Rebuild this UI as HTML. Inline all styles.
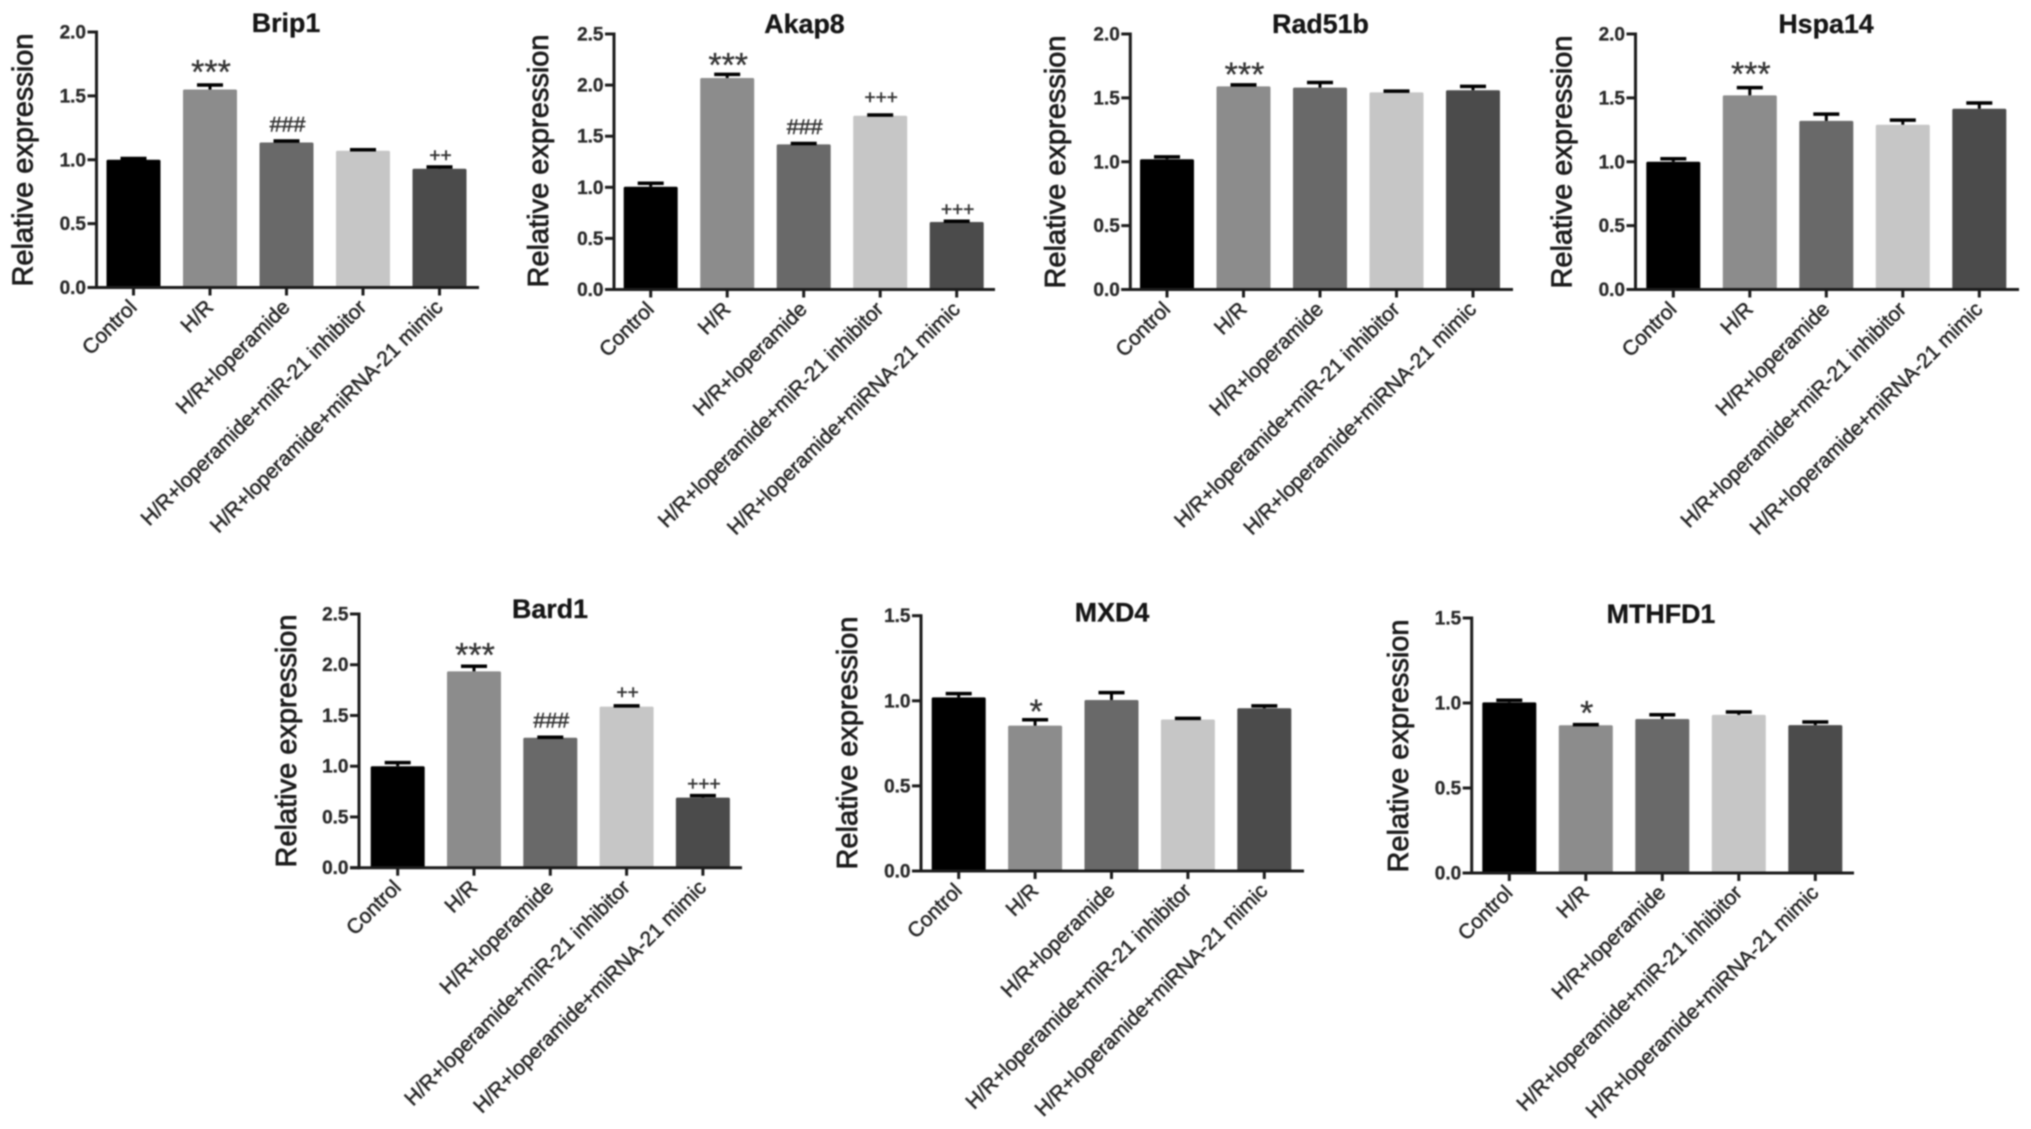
<!DOCTYPE html>
<html>
<head>
<meta charset="utf-8">
<title>Relative expression bar charts</title>
<style>
html,body{margin:0;padding:0;background:#fff;width:2031px;height:1129px;overflow:hidden}
#figure{display:block;filter:blur(0.7px)}
text{font-family:"Liberation Sans",Arial,sans-serif}
</style>
</head>
<body>
<svg id="figure" xmlns="http://www.w3.org/2000/svg" width="2031" height="1129" viewBox="0 0 2031 1129"></svg>
<script>
const categories = ["Control","H/R","H/R+loperamide","H/R+loperamide+miR-21 inhibitor","H/R+loperamide+miRNA-21 mimic"];
const barColors = ["#000000","#8c8c8c","#696969","#c6c6c6","#4b4b4b"];
const ticks20 = [0,0.5,1.0,1.5,2.0];
const ticks25 = [0,0.5,1.0,1.5,2.0,2.5];
const ticks15 = [0,0.5,1.0,1.5];

const brip1Values = [1.00,1.55,1.135,1.07,0.93];
const brip1Errors = [0.01,0.035,0.012,0.008,0.013];
const brip1Marks = ["","***","###","","++"];

const akap8Values = [1.005,2.07,1.42,1.70,0.66];
const akap8Errors = [0.035,0.035,0.008,0.008,0.008];
const akap8Marks = ["","***","###","+++","+++"];

const rad51bValues = [1.02,1.59,1.58,1.543,1.56];
const rad51bErrors = [0.018,0.012,0.04,0.01,0.03];
const rad51bMarks = ["","***","","",""];

const hspa14Values = [1.00,1.52,1.32,1.29,1.415];
const hspa14Errors = [0.023,0.06,0.053,0.036,0.045];
const hspa14Marks = ["","***","","",""];

const bard1Values = [1.00,1.935,1.28,1.587,0.69];
const bard1Errors = [0.035,0.05,0.006,0.008,0.02];
const bard1Marks = ["","***","###","++","+++"];

const mxd4Values = [1.02,0.854,1.005,0.89,0.956];
const mxd4Errors = [0.022,0.035,0.043,0.007,0.014];
const mxd4Marks = ["","*","","",""];

const mthfd1Values = [1.004,0.869,0.906,0.93,0.87];
const mthfd1Errors = [0.012,0.004,0.025,0.017,0.018];
const mthfd1Marks = ["","*","","",""];

const NS = "http://www.w3.org/2000/svg";
const svg = document.getElementById("figure");
const INK = "#1c1c1c";

function make(tag, attrs, parent, txt){
  const n = document.createElementNS(NS, tag);
  for (const k in attrs) n.setAttribute(k, attrs[k]);
  if (txt !== undefined) n.textContent = txt;
  parent.appendChild(n);
  return n;
}

function markStyle(sym, p, i){
  const extra = (p.lift && p.lift[i]) || 0;
  if (sym[0] === "*") return {size:34, gap:(p.starGap || 0) + extra, sw:0.3};
  if (sym[0] === "#") return {size:21.5, gap:9.5 + extra, sw:0.5};
  return {size:19, gap:5.5 + extra, sw:0.5};
}

function drawPanel(p){
  const g = make("g", {}, svg);
  
  

  const yScale = v => p.base - (v / p.ymax) * (p.base - p.top);
  const xScale = i => p.first + i * p.step;

  const title = make("text", {x:p.titleX, y:p.titleY, "text-anchor":"middle", "font-size":26.8, "font-weight":"bold", fill:"#151515", stroke:"#151515", "stroke-width":0.3}, g, p.title);
  
  

  const yTitle = make("text", {transform:"translate(" + p.yTitleX + "," + p.yTitleY + ") rotate(-90)", "text-anchor":"middle", "font-size":29, fill:"#1c1c1c", stroke:"#1c1c1c", "stroke-width":0.75}, g, "Relative expression");
  
  

  p.values.forEach((v, i) => {
    const cx = xScale(i);
    const bar = make("rect", {x:cx - 27, y:yScale(v), width:54, height:p.base - yScale(v), fill:barColors[i], rx:1.5}, g);
    
    

    const capY = yScale(v + p.errors[i]);
    const stem = make("line", {x1:cx, x2:cx, y1:yScale(v), y2:capY, stroke:"#000", "stroke-width":3}, g);
    
    

    const cap = make("line", {x1:cx - 13, x2:cx + 13, y1:capY, y2:capY, stroke:"#000", "stroke-width":3.5}, g);
    
    

    const sym = p.marks[i];
    if (sym) {
      const st = markStyle(sym, p, i);
      const mark = make("text", {x:cx + 1, y:capY - st.gap, "text-anchor":"middle", "font-size":st.size, fill:"#333", stroke:"#333", "stroke-width":st.sw}, g, sym);
      
      
    }

    const tick = make("line", {x1:cx, x2:cx, y1:p.base, y2:p.base + 8, stroke:INK, "stroke-width":3}, g);
    
    

    const lx = cx + 4.5, ly = p.base + 21;
    const label = make("text", {transform:"translate(" + lx + "," + ly + ") rotate(-45)", "text-anchor":"end", "font-size":20.8, fill:"#262626", stroke:"#262626", "stroke-width":0.5}, g, categories[i]);
    
    
  });

  p.ticks.forEach((t, i) => {
    const y = yScale(t);
    const tick = make("line", {x1:p.axisX - 9, x2:p.axisX, y1:y, y2:y, stroke:INK, "stroke-width":3}, g);
    
    

    const label = make("text", {x:p.axisX - 10.5, y:y + 6.5, "text-anchor":"end", "font-size":19, "font-weight":"bold", fill:"#2a2a2a", stroke:"#2a2a2a", "stroke-width":0.3}, g, t.toFixed(1));
    
    
  });

  const yAxis = make("line", {x1:p.axisX, x2:p.axisX, y1:p.top - 1.5, y2:p.base + 1.5, stroke:INK, "stroke-width":3}, g);
  
  

  const xAxis = make("line", {x1:p.axisX - 9, x2:p.right, y1:p.base, y2:p.base, stroke:INK, "stroke-width":3}, g);
  
  
}

drawPanel({title:"Brip1", values:brip1Values, errors:brip1Errors, marks:brip1Marks, ticks:ticks20, ymax:2.0, starGap:1.3,
  axisX:96.5, top:32, base:287.5, right:479, first:133.5, step:76.5, titleX:286, titleY:32, yTitleX:32.3, yTitleY:160});
drawPanel({title:"Akap8", values:akap8Values, errors:akap8Errors, marks:akap8Marks, ticks:ticks25, ymax:2.5, starGap:-2.3, lift:{3:6},
  axisX:614, top:34, base:289.5, right:995, first:650.7, step:76.5, titleX:804.5, titleY:33, yTitleX:548, yTitleY:161});
drawPanel({title:"Rad51b", values:rad51bValues, errors:rad51bErrors, marks:rad51bMarks, ticks:ticks20, ymax:2.0, starGap:-1,
  axisX:1130.3, top:34, base:289.5, right:1513, first:1167, step:76.5, titleX:1320.5, titleY:33, yTitleX:1065, yTitleY:162});
drawPanel({title:"Hspa14", values:hspa14Values, errors:hspa14Errors, marks:hspa14Marks, ticks:ticks20, ymax:2.0, starGap:2,
  axisX:1635.5, top:34, base:289.5, right:2019, first:1673.3, step:76.5, titleX:1826, titleY:33, yTitleX:1571.5, yTitleY:162});
drawPanel({title:"Bard1", values:bard1Values, errors:bard1Errors, marks:bard1Marks, ticks:ticks25, ymax:2.5, starGap:0, lift:{3:2},
  axisX:359, top:614, base:867.7, right:742, first:397.7, step:76.3, titleX:550, titleY:618, yTitleX:296, yTitleY:741});
drawPanel({title:"MXD4", values:mxd4Values, errors:mxd4Errors, marks:mxd4Marks, ticks:ticks15, ymax:1.5, starGap:-3.5,
  axisX:921, top:615.7, base:871, right:1304, first:958.7, step:76.4, titleX:1112, titleY:621.7, yTitleX:857, yTitleY:743});
drawPanel({title:"MTHFD1", values:mthfd1Values, errors:mthfd1Errors, marks:mthfd1Marks, ticks:ticks15, ymax:1.5, starGap:0,
  axisX:1471.7, top:618, base:873, right:1854, first:1509.3, step:76.5, titleX:1661, titleY:623, yTitleX:1408, yTitleY:746});
</script>
</body>
</html>
